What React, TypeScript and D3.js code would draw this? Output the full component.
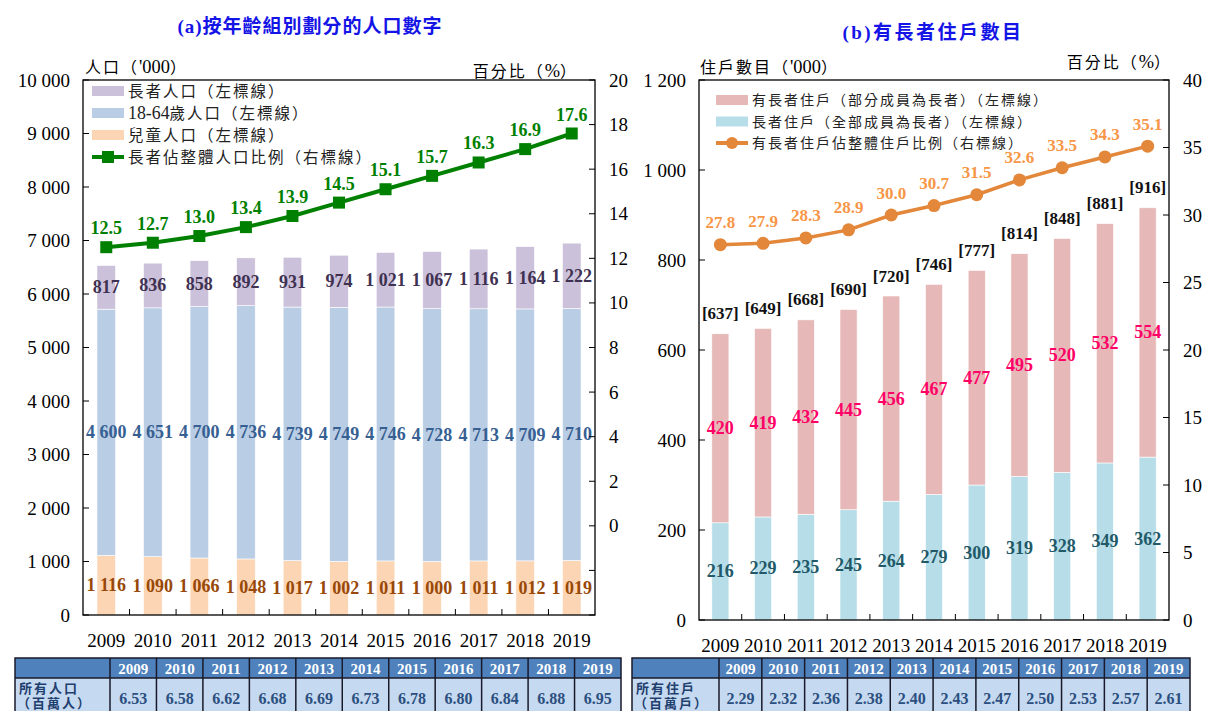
import { useRef, useEffect } from "react";
import * as d3 from "d3";

const years = ["2009", "2010", "2011", "2012", "2013", "2014", "2015", "2016", "2017", "2018", "2019"];

// (a) population by age group ('000)
const elderly = [817, 836, 858, 892, 931, 974, 1021, 1067, 1116, 1164, 1222];
const working = [4600, 4651, 4700, 4736, 4739, 4749, 4746, 4728, 4713, 4709, 4710];
const children = [1116, 1090, 1066, 1048, 1017, 1002, 1011, 1000, 1011, 1012, 1019];
const elderlyShare = [12.5, 12.7, 13.0, 13.4, 13.9, 14.5, 15.1, 15.7, 16.3, 16.9, 17.6];
const totalPop = ["6.53", "6.58", "6.62", "6.68", "6.69", "6.73", "6.78", "6.80", "6.84", "6.88", "6.95"];

// (b) households with elders ('000)
const hhTotal = [637, 649, 668, 690, 720, 746, 777, 814, 848, 881, 916];
const hhPartial = [420, 419, 432, 445, 456, 467, 477, 495, 520, 532, 554];
const hhAllElder = [216, 229, 235, 245, 264, 279, 300, 319, 328, 349, 362];
const hhShare = [27.8, 27.9, 28.3, 28.9, 30.0, 30.7, 31.5, 32.6, 33.5, 34.3, 35.1];
const totalHh = ["2.29", "2.32", "2.36", "2.38", "2.40", "2.43", "2.47", "2.50", "2.53", "2.57", "2.61"];

const FONT = "'Liberation Serif', 'Noto Sans CJK TC', serif";
const fmt = (v) => d3.format(",")(v).replace(/,/g, " ");

// mixed latin / CJK text: CJK runs get letter spacing, latin runs a bit bigger
function mixedText(sel, str, spacing, size) {
  sel.attr("font-size", size);
  const runs = str.match(/[\x00-\x7F]+|[^\x00-\x7F]+/g) || [];
  runs.forEach((r) => {
    const t = sel.append("tspan").text(r);
    if (/[^\x00-\x7F]/.test(r)) t.attr("letter-spacing", spacing);
    else t.attr("font-size", size * 1.15);
  });
  return sel;
}

function frame(g, x, y, yR, yTicks, rTicks) {
  const [x0, x1] = x.range();
  const [yb, yt] = y.range();
  g.append("rect").attr("x", x0).attr("y", yt).attr("width", x1 - x0).attr("height", yb - yt)
    .attr("fill", "none").attr("stroke", "#000").attr("stroke-width", 1.3);

  yTicks.forEach((t) => {
    g.append("line").attr("x1", x0).attr("x2", x0 + 6).attr("y1", y(t)).attr("y2", y(t)).attr("stroke", "#000");
    g.append("text").attr("x", x0 - 13).attr("y", y(t)).attr("text-anchor", "end")
      .attr("dominant-baseline", "central").attr("font-family", FONT).attr("font-size", 19).text(fmt(t));
  });
  rTicks.forEach((t) => {
    g.append("line").attr("x1", x1 - 6).attr("x2", x1).attr("y1", yR(t)).attr("y2", yR(t)).attr("stroke", "#000");
    if (t >= 0)
      g.append("text").attr("x", x1 + 14).attr("y", yR(t)).attr("dominant-baseline", "central")
        .attr("font-family", FONT).attr("font-size", 19).text(t);
  });
  d3.range(1, years.length).forEach((i) => {
    const xx = x0 + i * x.step();
    g.append("line").attr("x1", xx).attr("x2", xx).attr("y1", yb).attr("y2", yb - 6).attr("stroke", "#000");
  });
  years.forEach((yr) => {
    g.append("text").attr("x", x(yr) + x.bandwidth() / 2).attr("y", yb + 25).attr("text-anchor", "middle")
      .attr("dominant-baseline", "central").attr("font-family", FONT).attr("font-size", 19).text(yr);
  });
}

function legend(g, items, lx, ly, gap, size) {
  items.forEach((it, i) => {
    const yy = ly + i * gap;
    if (it.type === "rect") {
      g.append("rect").attr("x", lx).attr("y", yy - 5).attr("width", 32).attr("height", 10).attr("fill", it.color);
    } else {
      g.append("line").attr("x1", lx).attr("x2", lx + 32).attr("y1", yy).attr("y2", yy)
        .attr("stroke", it.color).attr("stroke-width", 4);
      if (it.type === "square")
        g.append("rect").attr("x", lx + 10).attr("y", yy - 6).attr("width", 12).attr("height", 12).attr("fill", it.color);
      else g.append("circle").attr("cx", lx + 16).attr("cy", yy).attr("r", 6).attr("fill", it.color);
    }
    const t = g.append("text").attr("x", lx + 36).attr("y", yy).attr("dominant-baseline", "central")
      .attr("font-family", FONT).attr("fill", "#222");
    mixedText(t, it.label, 2, size);
  });
}

function table(g, x0, firstW, x1, label1, label2, values) {
  const col = d3.scaleBand().domain(years).range([x0 + firstW, x1]);
  const top = 658, mid = 678, bot = 740;
  g.append("rect").attr("x", x0).attr("y", top).attr("width", x1 - x0).attr("height", mid - top).attr("fill", "#4F81BD");
  g.append("rect").attr("x", x0).attr("y", mid).attr("width", x1 - x0).attr("height", bot - mid).attr("fill", "#C5D9F1");
  g.append("rect").attr("x", x0).attr("y", top).attr("width", x1 - x0).attr("height", bot - top)
    .attr("fill", "none").attr("stroke", "#1a1a2a").attr("stroke-width", 1.5);
  g.append("line").attr("x1", x0).attr("x2", x1).attr("y1", mid).attr("y2", mid).attr("stroke", "#1a1a2a").attr("stroke-width", 1.5);
  [x0 + firstW, ...years.slice(1).map((y) => col(y))].forEach((xx) => {
    g.append("line").attr("x1", xx).attr("x2", xx).attr("y1", top).attr("y2", bot).attr("stroke", "#1a1a2a").attr("stroke-width", 1.5);
  });
  years.forEach((yr, i) => {
    const cx = col(yr) + col.bandwidth() / 2;
    g.append("text").attr("x", cx).attr("y", (top + mid) / 2 + 1).attr("text-anchor", "middle").attr("dominant-baseline", "central")
      .attr("font-family", FONT).attr("font-size", 15).attr("font-weight", "bold").attr("fill", "#fff").text(yr);
    g.append("text").attr("x", cx).attr("y", 698).attr("text-anchor", "middle").attr("dominant-baseline", "central")
      .attr("font-family", FONT).attr("font-size", 16).attr("font-weight", "bold").attr("fill", "#2B4F7E").text(values[i]);
  });
  g.append("text").attr("x", x0 + 4).attr("y", 688).attr("dominant-baseline", "central").attr("font-family", FONT)
    .attr("font-size", 13).attr("font-weight", "bold").attr("letter-spacing", 2).attr("fill", "#1F3F6E").text(label1);
  g.append("text").attr("x", x0 + 2).attr("y", 703).attr("dominant-baseline", "central").attr("font-family", FONT)
    .attr("font-size", 13).attr("font-weight", "bold").attr("letter-spacing", 2).attr("fill", "#1F3F6E").text(label2);
}

function App() {
  const svgRef = useRef(null);

  useEffect(() => {
    const svg = d3.select(svgRef.current);
    svg.selectAll("*").remove();

    // ---------- (a) population ----------
    const ga = svg.append("g");
    const xa = d3.scaleBand().domain(years).range([83, 595]).paddingInner(0.6).paddingOuter(0.3);
    const ya = d3.scaleLinear().domain([0, 10000]).range([615, 80]);
    const yaR = d3.scaleLinear().domain([-4, 20]).range([615, 80]);

    const popRows = years.map((yr, i) => ({ year: yr, children: children[i], working: working[i], elderly: elderly[i] }));
    const popKeys = ["children", "working", "elderly"];
    const popFill = { children: "#FCD5B5", working: "#B9CDE5", elderly: "#CCC1DA" };
    const popText = { children: "#984807", working: "#376092", elderly: "#3F3151" };
    const popStack = d3.stack().keys(popKeys)(popRows);

    popStack.forEach((layer) => {
      ga.append("g").selectAll("rect").data(layer).join("rect")
        .attr("x", (d) => xa(d.data.year)).attr("width", xa.bandwidth())
        .attr("y", (d) => ya(d[1])).attr("height", (d) => ya(d[0]) - ya(d[1]))
        .attr("fill", popFill[layer.key]).attr("stroke", "#fff").attr("stroke-width", 0.6);
    });
    popStack.forEach((layer) => {
      ga.append("g").selectAll("text").data(layer).join("text")
        .attr("x", (d) => xa(d.data.year) + xa.bandwidth() / 2).attr("y", (d) => ya((d[0] + d[1]) / 2))
        .attr("text-anchor", "middle").attr("dominant-baseline", "central")
        .attr("font-family", FONT).attr("font-size", 18).attr("font-weight", "bold")
        .attr("fill", popText[layer.key]).text((d) => fmt(d.data[layer.key]));
    });

    frame(ga, xa, ya, yaR, d3.range(0, 10001, 1000), d3.range(-4, 21, 2));

    const cxa = (i) => xa(years[i]) + xa.bandwidth() / 2;
    ga.append("path").datum(elderlyShare)
      .attr("d", d3.line().x((d, i) => cxa(i)).y((d) => yaR(d)))
      .attr("fill", "none").attr("stroke", "#008000").attr("stroke-width", 4);
    ga.append("g").selectAll("rect").data(elderlyShare).join("rect")
      .attr("x", (d, i) => cxa(i) - 6).attr("y", (d) => yaR(d) - 6).attr("width", 12).attr("height", 12).attr("fill", "#008000");
    ga.append("g").selectAll("text").data(elderlyShare).join("text")
      .attr("x", (d, i) => cxa(i)).attr("y", (d) => yaR(d) - 19).attr("text-anchor", "middle").attr("dominant-baseline", "central")
      .attr("font-family", FONT).attr("font-size", 18).attr("font-weight", "bold").attr("fill", "#008000").text((d) => d.toFixed(1));

    legend(ga, [
      { type: "rect", color: "#CCC1DA", label: "長者人口（左標線）" },
      { type: "rect", color: "#B9CDE5", label: "18-64歲人口（左標線）" },
      { type: "rect", color: "#FCD5B5", label: "兒童人口（左標線）" },
      { type: "square", color: "#008000", label: "長者佔整體人口比例（右標線）" },
    ], 92, 91, 22, 15.5);

    mixedText(ga.append("text").attr("x", 85).attr("y", 67).attr("dominant-baseline", "central")
      .attr("font-family", FONT), "人口（'000）", 2, 16);
    mixedText(ga.append("text").attr("x", 578).attr("y", 71).attr("text-anchor", "end").attr("dominant-baseline", "central")
      .attr("font-family", FONT), "百分比（%）", 2, 16);
    ga.append("text").attr("x", 310).attr("y", 26).attr("text-anchor", "middle").attr("dominant-baseline", "central")
      .attr("font-family", FONT).attr("font-size", 19).attr("font-weight", "bold").attr("letter-spacing", 1)
      .attr("fill", "#1414E6").text("(a)按年齡組別劃分的人口數字");

    // ---------- (b) households ----------
    const gb = svg.append("g");
    const xb = d3.scaleBand().domain(years).range([699, 1169]).paddingInner(0.6).paddingOuter(0.3);
    const yb = d3.scaleLinear().domain([0, 1200]).range([620, 80]);
    const ybR = d3.scaleLinear().domain([0, 40]).range([620, 80]);

    const hhRows = years.map((yr, i) => ({ year: yr, all: hhAllElder[i], partial: hhPartial[i] }));
    const hhKeys = ["all", "partial"];
    const hhFill = { all: "#B7DEE8", partial: "#E6B9B8" };
    const hhText = { all: "#215968", partial: "#FF0066" };
    const hhStack = d3.stack().keys(hhKeys)(hhRows);

    hhStack.forEach((layer) => {
      gb.append("g").selectAll("rect").data(layer).join("rect")
        .attr("x", (d) => xb(d.data.year)).attr("width", xb.bandwidth())
        .attr("y", (d) => yb(d[1])).attr("height", (d) => yb(d[0]) - yb(d[1]))
        .attr("fill", hhFill[layer.key]).attr("stroke", "#fff").attr("stroke-width", 0.6);
    });
    hhStack.forEach((layer) => {
      gb.append("g").selectAll("text").data(layer).join("text")
        .attr("x", (d) => xb(d.data.year) + xb.bandwidth() / 2).attr("y", (d) => yb((d[0] + d[1]) / 2))
        .attr("text-anchor", "middle").attr("dominant-baseline", "central")
        .attr("font-family", FONT).attr("font-size", 18).attr("font-weight", "bold")
        .attr("fill", hhText[layer.key]).text((d) => d.data[layer.key]);
    });
    const cxb = (i) => xb(years[i]) + xb.bandwidth() / 2;
    gb.append("g").selectAll("text").data(hhTotal).join("text")
      .attr("x", (d, i) => cxb(i)).attr("y", (d, i) => yb(hhAllElder[i] + hhPartial[i]) - 20)
      .attr("text-anchor", "middle").attr("dominant-baseline", "central")
      .attr("font-family", FONT).attr("font-size", 17).attr("font-weight", "bold").attr("fill", "#111").text((d) => `[${d}]`);

    frame(gb, xb, yb, ybR, d3.range(0, 1201, 200), d3.range(0, 41, 5));

    gb.append("path").datum(hhShare)
      .attr("d", d3.line().x((d, i) => cxb(i)).y((d) => ybR(d)))
      .attr("fill", "none").attr("stroke", "#E3873A").attr("stroke-width", 3.5);
    gb.append("g").selectAll("circle").data(hhShare).join("circle")
      .attr("cx", (d, i) => cxb(i)).attr("cy", (d) => ybR(d)).attr("r", 6.5).attr("fill", "#E3873A");
    gb.append("g").selectAll("text").data(hhShare).join("text")
      .attr("x", (d, i) => cxb(i)).attr("y", (d) => ybR(d) - 22).attr("text-anchor", "middle").attr("dominant-baseline", "central")
      .attr("font-family", FONT).attr("font-size", 17).attr("font-weight", "bold").attr("fill", "#F79646").text((d) => d.toFixed(1));

    legend(gb, [
      { type: "rect", color: "#E6B9B8", label: "有長者住戶（部分成員為長者）（左標線）" },
      { type: "rect", color: "#B7DEE8", label: "長者住戶（全部成員為長者）（左標線）" },
      { type: "circle", color: "#E3873A", label: "有長者住戶佔整體住戶比例（右標線）" },
    ], 716, 100, 21.5, 14);

    mixedText(gb.append("text").attr("x", 700).attr("y", 67).attr("dominant-baseline", "central")
      .attr("font-family", FONT), "住戶數目（'000）", 2, 16);
    mixedText(gb.append("text").attr("x", 1172).attr("y", 62).attr("text-anchor", "end").attr("dominant-baseline", "central")
      .attr("font-family", FONT), "百分比（%）", 2, 16);
    gb.append("text").attr("x", 933).attr("y", 32).attr("text-anchor", "middle").attr("dominant-baseline", "central")
      .attr("font-family", FONT).attr("font-size", 19).attr("font-weight", "bold").attr("letter-spacing", 2.5)
      .attr("fill", "#1414E6").text("(b)有長者住戶數目");

    // ---------- tables ----------
    table(svg.append("g"), 15, 95, 621, "所有人口", "（百萬人）", totalPop);
    table(svg.append("g"), 632, 87, 1190, "所有住戶", "（百萬戶）", totalHh);
  }, []);

  return (
    <div style={{ position: "absolute", left: 0, top: 0 }}>
      <svg ref={svgRef} width={1208} height={711} style={{ display: "block", background: "#fff" }}></svg>
    </div>
  );
}

export default App;
